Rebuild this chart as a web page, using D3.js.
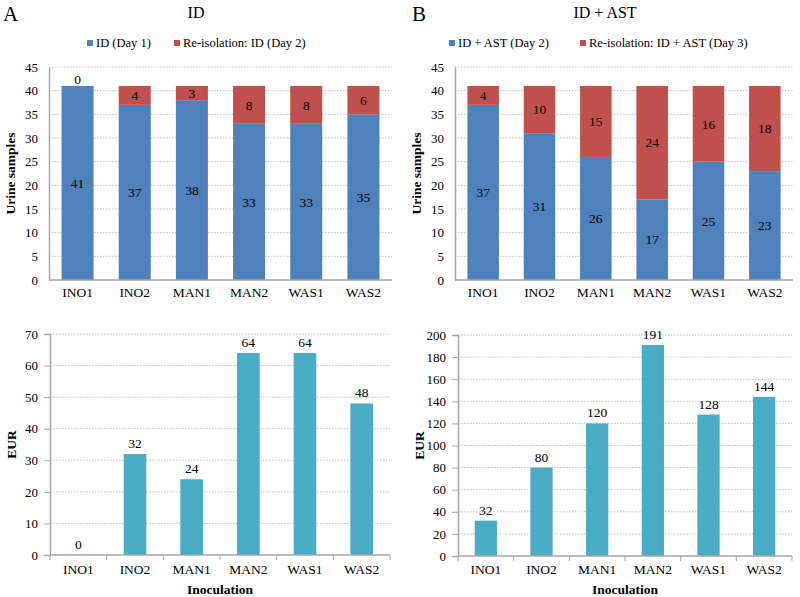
<!DOCTYPE html>
<html><head><meta charset="utf-8">
<script src="https://cdn.jsdelivr.net/npm/d3@7"></script>
<style>body{margin:0;background:#fff}svg, svg text{font-family:"Liberation Serif","Times New Roman",serif}</style>
</head><body>
<script>
const categories = ["INO1","INO2","MAN1","MAN2","WAS1","WAS2"];
const idDay1 = [41,37,38,33,33,35];
const reIdDay2 = [0,4,3,8,8,6];
const idAstDay2 = [37,31,26,17,25,23];
const reIdAstDay3 = [4,10,15,24,16,18];
const costID = [0,32,24,64,64,48];
const costIDAST = [32,80,120,191,128,144];
const topTicks = [0,5,10,15,20,25,30,35,40,45];
const botTicksA = [0,10,20,30,40,50,60,70];
const botTicksB = [0,20,40,60,80,100,120,140,160,180,200];

const BLUE="#4F81BD", RED="#C0504D", TEAL="#4BACC6", AXIS="#A6A6A6", GRID="#BFBFBF";
const FONT="Liberation Serif";
const svg = d3.select("body").append("svg").attr("width",800).attr("height",597).attr("font-family",FONT);

function yAxisGrid(g, y, x0, x1, ticks, tickLen){
  g.append("g").selectAll("line").data(ticks.filter(t=>t>0)).join("line")
    .attr("x1",x0).attr("x2",x1).attr("y1",d=>y(d)).attr("y2",d=>y(d))
    .attr("stroke",GRID).attr("stroke-width",1).attr("stroke-dasharray","1.5,1.5");
  const ax = g.append("g").attr("transform",`translate(${x0},0)`)
    .call(d3.axisLeft(y).tickValues(ticks).tickSize(tickLen).tickPadding(tickLen?6:11));
  ax.attr("font-family",FONT).attr("font-size",13);
  ax.select(".domain").attr("stroke",AXIS).attr("stroke-width",1.5);
  ax.selectAll(".tick line").attr("stroke",AXIS);
  ax.selectAll("text").attr("fill","#000");
}
function xAxis(g, x, y0, ticks, labelY){
  g.append("line").attr("x1",x.range()[0]).attr("x2",x.range()[1]).attr("y1",y0).attr("y2",y0)
    .attr("stroke",AXIS).attr("stroke-width",1.5);
  if(ticks){
    const bounds = d3.range(categories.length+1).map(i=>x.range()[0]+i*(x.range()[1]-x.range()[0])/categories.length);
    g.append("g").selectAll("line").data(bounds).join("line")
      .attr("x1",d=>d).attr("x2",d=>d).attr("y1",y0).attr("y2",y0+5).attr("stroke",AXIS);
  }
  g.append("g").selectAll("text").data(categories).join("text")
    .attr("x",d=>x(d)+x.bandwidth()/2).attr("y",labelY).attr("text-anchor","middle")
    .attr("font-size",13.5).text(d=>d);
}

function stacked(opts){
  const {x0,x1,y0,y1,a,b,la,lb,letter,title,titleX,legend} = opts;
  const g = svg.append("g");
  const x = d3.scaleBand().domain(categories).range([x0,x1]).paddingInner(0.44).paddingOuter(0.22);
  const y = d3.scaleLinear().domain([0,45]).range([y0,y1]);
  yAxisGrid(g,y,x0,x1,topTicks,0);
  const rows = categories.map((c,i)=>({c,a:a[i],b:b[i]}));
  g.append("g").selectAll("rect").data(rows).join("rect")
    .attr("x",d=>x(d.c)).attr("width",x.bandwidth()).attr("y",d=>y(d.a)).attr("height",d=>y(0)-y(d.a)).attr("fill",BLUE);
  g.append("g").selectAll("rect").data(rows).join("rect")
    .attr("x",d=>x(d.c)).attr("width",x.bandwidth()).attr("y",d=>y(d.a+d.b)).attr("height",d=>y(d.a)-y(d.a+d.b)).attr("fill",RED);
  g.append("g").selectAll("text").data(rows).join("text")
    .attr("x",d=>x(d.c)+x.bandwidth()/2).attr("y",d=>y(d.a/2)).attr("dy","0.35em")
    .attr("text-anchor","middle").attr("font-size",13.5).text(d=>d.a);
  g.append("g").selectAll("text").data(rows).join("text")
    .attr("x",d=>x(d.c)+x.bandwidth()/2).attr("y",d=>y(d.a+d.b/2)-(d.b===0?7:0)).attr("dy","0.35em")
    .attr("text-anchor","middle").attr("font-size",13.5).text(d=>d.b);
  xAxis(g,x,y0,false,297);
  g.append("text").attr("transform",`translate(${x0-34},${(y0+y1)/2}) rotate(-90)`).attr("text-anchor","middle")
    .attr("font-size",13.5).attr("font-weight","bold").text("Urine samples");
  g.append("text").attr("x",letter[0]).attr("y",letter[1]).attr("font-size",21).text(letter[2]);
  g.append("text").attr("x",titleX).attr("y",18).attr("text-anchor","middle").attr("font-size",16).text(title);
  const lg = g.append("g");
  lg.append("rect").attr("x",legend[0]).attr("y",40).attr("width",6).attr("height",6).attr("fill",BLUE);
  lg.append("text").attr("x",legend[0]+9).attr("y",47).attr("font-size",12.5).text(la);
  lg.append("rect").attr("x",legend[1]).attr("y",40).attr("width",6).attr("height",6).attr("fill",RED);
  lg.append("text").attr("x",legend[1]+9).attr("y",47).attr("font-size",12.5).text(lb);
}

function simple(opts){
  const {x0,x1,y0,y1,vals,max,ticks} = opts;
  const g = svg.append("g");
  const x = d3.scaleBand().domain(categories).range([x0,x1]).paddingInner(0.6).paddingOuter(0.3);
  const y = d3.scaleLinear().domain([0,max]).range([y0,y1]);
  yAxisGrid(g,y,x0,x1,ticks,6);
  const rows = categories.map((c,i)=>({c,v:vals[i]}));
  g.append("g").selectAll("rect").data(rows).join("rect")
    .attr("x",d=>x(d.c)).attr("width",x.bandwidth()).attr("y",d=>y(d.v)).attr("height",d=>y(0)-y(d.v)).attr("fill",TEAL);
  g.append("g").selectAll("text").data(rows).join("text")
    .attr("x",d=>x(d.c)+x.bandwidth()/2).attr("y",d=>y(d.v)-6)
    .attr("text-anchor","middle").attr("font-size",13.5).text(d=>d.v);
  xAxis(g,x,y0,true,574);
  g.append("text").attr("transform",`translate(${x0-34},${(y0+y1)/2}) rotate(-90)`).attr("text-anchor","middle")
    .attr("font-size",13.5).attr("font-weight","bold").text("EUR");
  g.append("text").attr("x",(x0+x1)/2).attr("y",594).attr("text-anchor","middle")
    .attr("font-size",13.5).attr("font-weight","bold").text("Inoculation");
}

stacked({x0:49,x1:392,y0:280,y1:67,a:idDay1,b:reIdDay2,la:"ID (Day 1)",lb:"Re-isolation: ID (Day 2)",
  letter:[3,21,"A"],title:"ID",titleX:196,legend:[87,174]});
stacked({x0:455,x1:793,y0:280,y1:67,a:idAstDay2,b:reIdAstDay3,la:"ID + AST (Day 2)",lb:"Re-isolation: ID + AST (Day 3)",
  letter:[412,21,"B"],title:"ID + AST",titleX:605,legend:[449,580]});
simple({x0:50,x1:390,y0:555,y1:334,vals:costID,max:70,ticks:botTicksA});
simple({x0:458,x1:792,y0:556,y1:335,vals:costIDAST,max:200,ticks:botTicksB});
</script>
</body></html>
